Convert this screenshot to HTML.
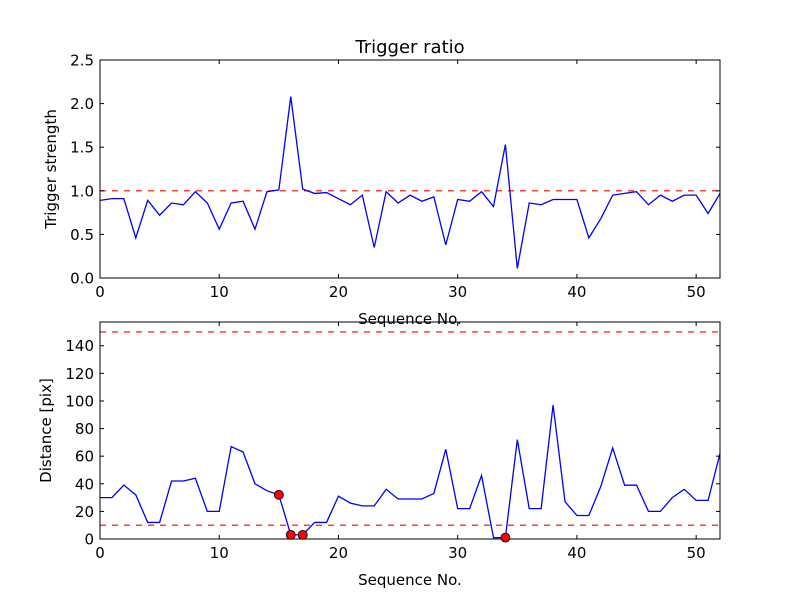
<!DOCTYPE html>
<html><head><meta charset="utf-8"><style>
body{margin:0;background:#fff;}
svg text{font-family:"DejaVu Sans","Liberation Sans",sans-serif;}
</style></head><body>
<svg id="fig" width="800" height="600" xmlns="http://www.w3.org/2000/svg"></svg>
<script>
const seq = Array.from({length:53},(_,i)=>i);
const ratio = [0.89,0.91,0.91,0.46,0.89,0.72,0.86,0.84,0.99,0.86,0.56,0.86,0.88,0.56,0.99,1.01,2.08,1.02,0.97,0.98,0.91,0.84,0.95,0.35,0.99,0.86,0.95,0.88,0.93,0.38,0.9,0.88,0.99,0.82,1.53,0.11,0.86,0.84,0.9,0.9,0.9,0.46,0.68,0.95,0.97,0.99,0.84,0.95,0.88,0.95,0.95,0.74,0.97];
const dist = [30,30,39,32,12,12,42,42,44,20,20,67,63,40,35,32,3,3,12,12,31,26,24,24,36,29,29,29,33,65,22,22,46,1,1,72,22,22,97,27,17,17,38,66,39,39,20,20,30,36,28,28,62];
const flagged = [15,16,17,34];
const xTicks = [0,10,20,30,40,50];
const topTicks = [0,0.5,1.0,1.5,2.0,2.5];
const topTickLabels = ["0.0","0.5","1.0","1.5","2.0","2.5"];
const botTicks = [0,20,40,60,80,100,120,140];
const ratioThreshold = [1.0];
const distThresholds = [10,150];

const NS="http://www.w3.org/2000/svg";
const svg=document.getElementById('fig');
function mk(tag,attrs,parent){const e=document.createElementNS(NS,tag);for(const k in attrs)e.setAttribute(k,attrs[k]);(parent||svg).appendChild(e);return e;}
const L=100,R=720;
const xs=v=>L+(v-0)/52*(R-L);
function panel(top,bottom,ymax,yticks,ylabels,data,thresh,ytitle,name,ytx){
  const ys=v=>bottom-v/ymax*(bottom-top);
  const g=mk('g',{});
  
  
  thresh.forEach(t=>{const l=mk('line',{x1:L,x2:R,y1:ys(t),y2:ys(t),stroke:'#f00','stroke-width':1.2,'stroke-dasharray':'6,6'},g);
    });
  const pts=data.map((v,i)=>xs(seq[i])+','+ys(v)).join(' ');
  const pl=mk('polyline',{points:pts,fill:'none',stroke:'#00f','stroke-width':1.3},g);
  
  const fr=mk('rect',{x:L,y:top,width:R-L,height:bottom-top,fill:'none',stroke:'#000','stroke-width':1},g);
  
  xTicks.forEach(t=>{const x=xs(t);
    mk('line',{x1:x,x2:x,y1:bottom,y2:bottom-4,stroke:'#000'},g);
    mk('line',{x1:x,x2:x,y1:top,y2:top+4,stroke:'#000'},g);
    const tx=mk('text',{x:x,y:bottom+19,'font-size':15,'text-anchor':'middle'},g);tx.textContent=t;
    });
  yticks.forEach((t,i)=>{const y=ys(t);
    mk('line',{x1:L,x2:L+4,y1:y,y2:y,stroke:'#000'},g);
    mk('line',{x1:R,x2:R-4,y1:y,y2:y,stroke:'#000'},g);
    const tx=mk('text',{x:L-6,y:y+5.5,'font-size':15,'text-anchor':'end'},g);tx.textContent=ylabels[i];
    });
  const xt=mk('text',{x:(L+R)/2,y:bottom+46,'font-size':15,'text-anchor':'middle'},g);xt.textContent='Sequence No.';
  
  const yt=mk('text',{x:0,y:0,'font-size':15,'text-anchor':'middle',transform:`translate(${ytx},${(top+bottom)/2}) rotate(-90)`},g);yt.textContent=ytitle;
  
  return ys;
}
panel(60,278,2.5,topTicks,topTickLabels,ratio,ratioThreshold,'Trigger strength','trigger-ratio-panel',56);
const ys2=panel(322,539,157.2,botTicks,botTicks.map(String),dist,distThresholds,'Distance [pix]','distance-panel',51);
flagged.forEach(i=>{const c=mk('circle',{cx:xs(seq[i]),cy:ys2(dist[i]),r:4.5,fill:'#f00',stroke:'#000','stroke-width':0.8});
  });
const title=mk('text',{x:410,y:53,'font-size':18,'text-anchor':'middle'});title.textContent='Trigger ratio';

</script>
</body></html>
